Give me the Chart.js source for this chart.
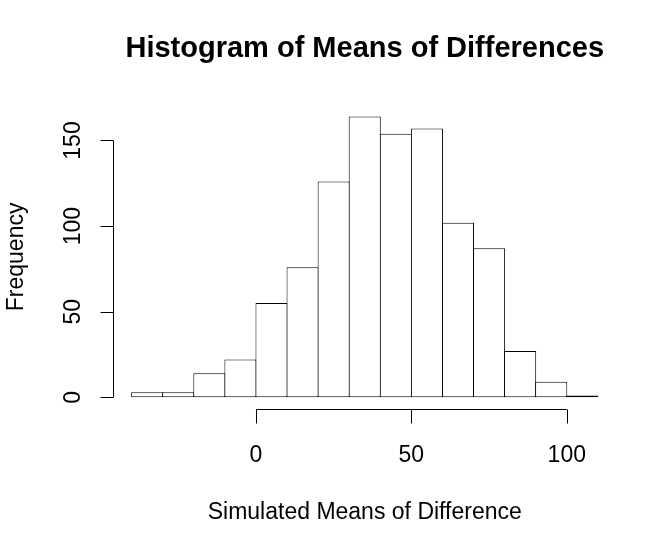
<!DOCTYPE html>
<html>
<head>
<meta charset="utf-8">
<script src="https://cdn.jsdelivr.net/npm/chart.js@4"></script>
<style>
  body { margin: 0; background: #fff; }
  canvas { display: block; }
</style>
</head>
<body>
<canvas id="chart" width="662" height="538"></canvas>
<script>
// histogram bins (left edges, width 10) and counts
const binStarts = [-40, -30, -20, -10, 0, 10, 20, 30, 40, 50, 60, 70, 80, 90, 100];
const counts = [3, 3, 14, 22, 55, 76, 126, 164, 154, 157, 102, 87, 27, 9, 1];
const binWidth = 10;

const xTicks = [0, 50, 100];
const yTicks = [0, 50, 100, 150];

const title = "Histogram of Means of Differences";
const xLabel = "Simulated Means of Difference";
const yLabel = "Frequency";

const FONT = '"Liberation Sans", Arial, sans-serif';

// R-style axes, drawn from the chart's own scales
const baseAxes = {
  id: "baseAxes",
  afterDraw(chart) {
    const { ctx, chartArea, scales } = chart;
    const xs = scales.x;
    const ys = scales.y;
    ctx.save();
    ctx.strokeStyle = "#000";
    ctx.fillStyle = "#000";
    ctx.lineWidth = 1;

    // x axis
    const ay = Math.round(chartArea.bottom) + 0.5;
    ctx.beginPath();
    ctx.moveTo(xs.getPixelForValue(xTicks[0]), ay);
    ctx.lineTo(xs.getPixelForValue(xTicks[xTicks.length - 1]), ay);
    xTicks.forEach((t) => {
      const px = Math.round(xs.getPixelForValue(t)) + 0.5;
      ctx.moveTo(px, ay);
      ctx.lineTo(px, ay + 14);
    });
    ctx.stroke();
    ctx.font = "23px " + FONT;
    ctx.textAlign = "center";
    ctx.textBaseline = "alphabetic";
    xTicks.forEach((t) => ctx.fillText(String(t), xs.getPixelForValue(t), 462));

    // y axis
    const ax = Math.round(chartArea.left) + 0.5;
    ctx.beginPath();
    ctx.moveTo(ax, ys.getPixelForValue(yTicks[0]));
    ctx.lineTo(ax, ys.getPixelForValue(yTicks[yTicks.length - 1]));
    yTicks.forEach((t) => {
      const py = Math.round(ys.getPixelForValue(t)) + 0.5;
      ctx.moveTo(ax, py);
      ctx.lineTo(ax - 13, py);
    });
    ctx.stroke();
    yTicks.forEach((t) => {
      ctx.save();
      ctx.translate(80, ys.getPixelForValue(t));
      ctx.rotate(-Math.PI / 2);
      ctx.fillText(String(t), 0, 0);
      ctx.restore();
    });

    // titles
    const cx = (chartArea.left + chartArea.right) / 2;
    ctx.font = "bold 29px " + FONT;
    ctx.fillText(title, cx, 57);
    ctx.font = "23px " + FONT;
    ctx.fillText(xLabel, cx, 519);
    ctx.save();
    ctx.translate(23, (chartArea.top + chartArea.bottom) / 2);
    ctx.rotate(-Math.PI / 2);
    ctx.fillText(yLabel, 0, 0);
    ctx.restore();

    ctx.restore();
  },
};

new Chart(document.getElementById("chart"), {
  type: "bar",
  data: {
    datasets: [
      {
        data: binStarts.map((b, i) => ({ x: b + binWidth / 2, y: counts[i] })),
        backgroundColor: "#fff",
        borderColor: "#000",
        borderSkipped: false,
        borderWidth: 1,
        // slightly wider than the bin so neighbouring outlines share one pixel
        barPercentage: 1.032,
        categoryPercentage: 1,
      },
    ],
  },
  options: {
    responsive: false,
    animation: false,
    layout: { padding: { left: 113, right: 45.5, top: 105.3, bottom: 129.5 } },
    scales: {
      x: { type: "linear", offset: false, min: -46, max: 116, display: false },
      y: { min: -6.56, max: 170.56, display: false },
    },
    plugins: { legend: { display: false }, tooltip: { enabled: false } },
  },
  plugins: [baseAxes],
});
</script>
</body>
</html>
